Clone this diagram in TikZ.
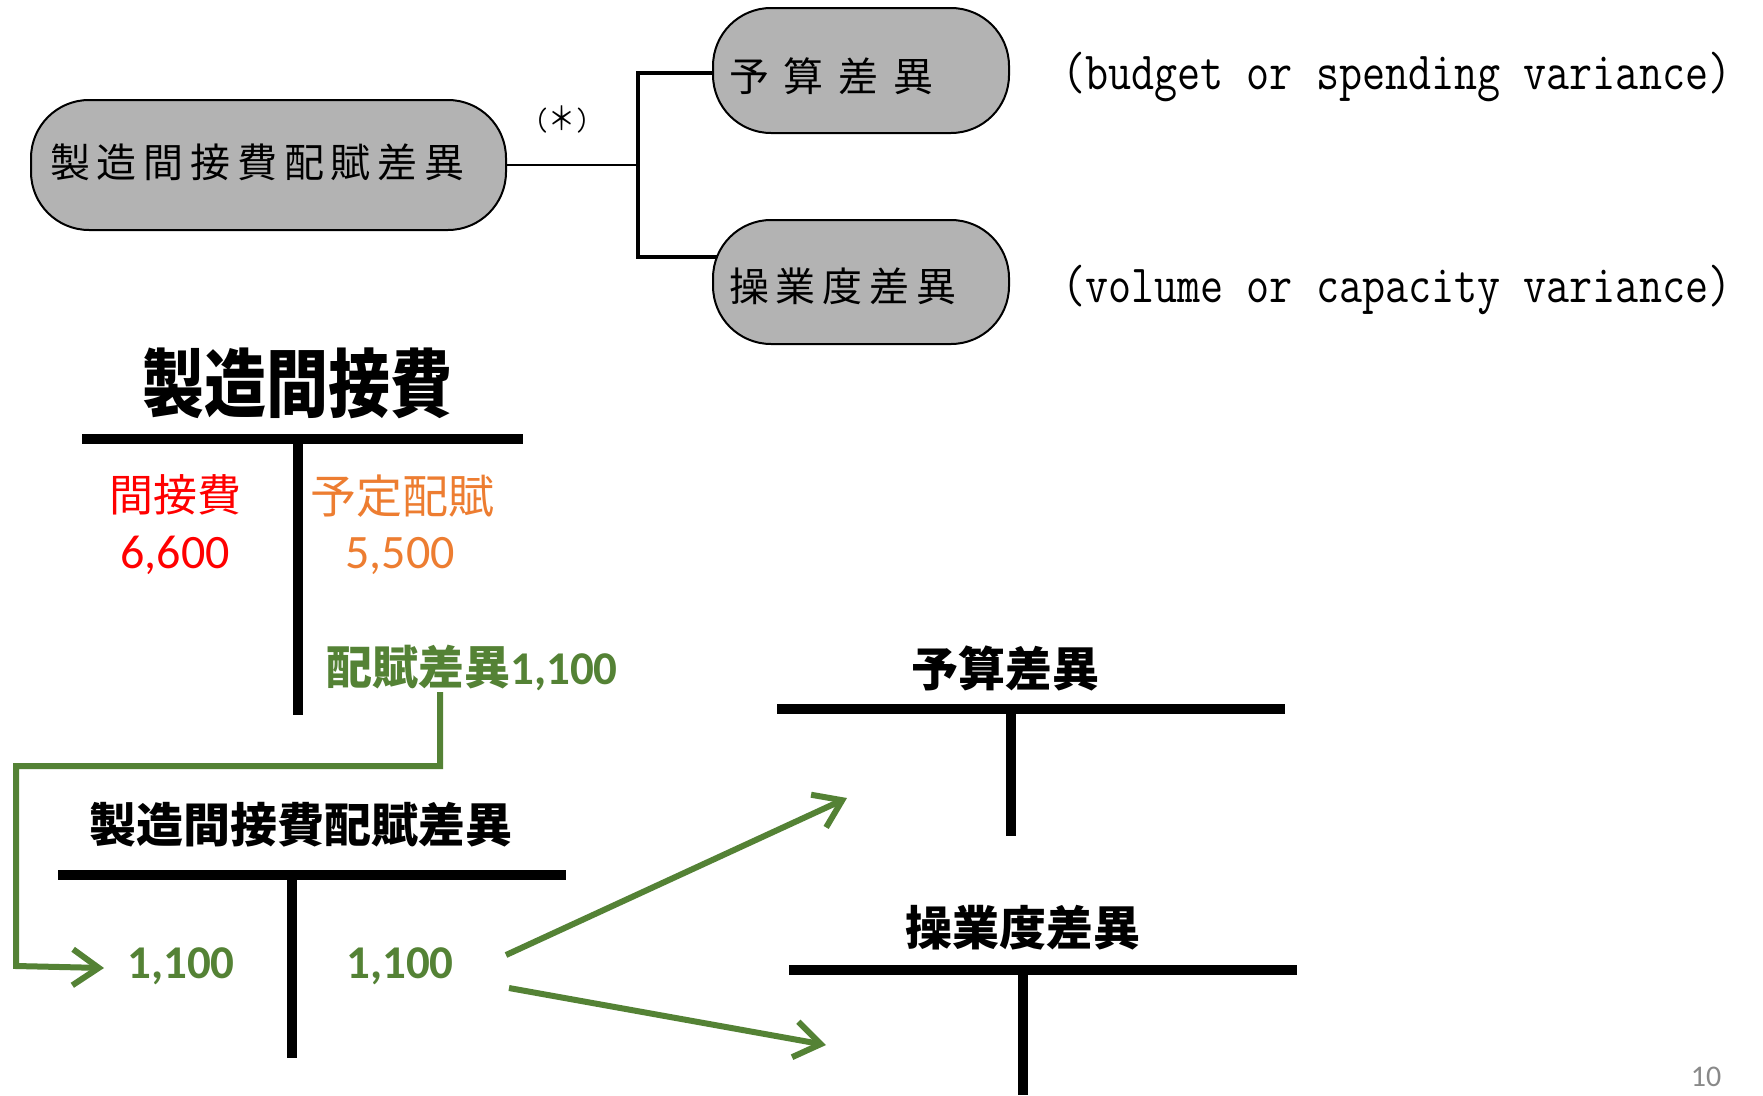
\documentclass[tikz,border=0pt]{standalone}
\usepackage{fontspec}
\usepackage{graphicx}
\setmainfont{Noto Sans CJK JP}
\newfontfamily\jpls{Noto Sans CJK JP}[LetterSpace=17]
\newfontfamily\jpwide{Noto Sans CJK JP}[LetterSpace=37]
\newfontfamily\calf{Carlito}
\usetikzlibrary{arrows.meta}
\definecolor{gr}{HTML}{548235}
\definecolor{orng}{HTML}{ED7D31}
\definecolor{ovalgray}{RGB}{179,179,179}
\definecolor{pggray}{RGB}{137,137,137}
\pgfdeclarelayer{bg}
\pgfsetlayers{bg,main}
\tikzset{
  oval/.style={draw=black, line width=2pt, fill=ovalgray, rounded corners=58pt, inner sep=0pt},
  ovtext/.style={anchor=west, inner sep=0pt, font=\fontsize{40}{48}\selectfont},
  tbar/.style={line width=10.5pt},
  gline/.style={draw=gr, line width=6pt},
  garrow/.style={gline, -{Straight Barb[length=26pt,width=36pt]}},
  ttitle/.style={inner sep=0pt, font=\bfseries\fontsize{47}{56}\selectfont},
  gnum/.style={inner sep=0pt, text=gr, font=\calf\bfseries\fontsize{47}{56}\selectfont},
  engl/.style={anchor=west, inner sep=0pt},
}
\begin{document}
\begin{tikzpicture}[x=1pt,y=-1pt]
\path[use as bounding box] (0,0) rectangle (1763,1095);
\begin{pgfonlayer}{bg}
\fill[white] (0,0) rectangle (1763,1095);
\end{pgfonlayer}

% ---- top diagram
\node[oval, minimum width=475pt, minimum height=130pt] (ovA) at (268.5,165) {};
\node[ovtext] (tA) at (50,162) {\jpls 製造間接費配賦差異};
\node[oval, minimum width=296pt, minimum height=125pt] (ovB) at (861,70.5) {};
\node[ovtext] (tB) at (729,76) {\jpwide 予算差異};
\node[oval, minimum width=296pt, minimum height=124pt] (ovC) at (861,282) {};
\node[ovtext] (tC) at (729,286) {\jpls 操業度差異};

\coordinate (br) at (638,165);
\coordinate (bt) at (638,73);
\coordinate (bb) at (638,257);
\begin{pgfonlayer}{bg}
\draw[line width=2pt] (ovA.east) -- (br);
\draw[line width=3.5pt] ([xshift=20pt]ovB.west |- bt) -- (bt) -- (bb) -- ([xshift=20pt]ovC.west |- bb);
\end{pgfonlayer}
\node[inner sep=0pt] (ast) at (562,119) {\scalebox{1}[1.2]{\fontsize{27}{30}\selectfont{\ttfamily(}＊{\ttfamily)}}};

\node[engl] (eB) at (1062,77) {\scalebox{1}[1.2]{\ttfamily\fontsize{44.8}{48}\selectfont(budget or spending variance)}};
\node[engl] (eC) at (1062,290) {\scalebox{1}[1.2]{\ttfamily\fontsize{44.8}{48}\selectfont(volume or capacity variance)}};

% ---- T account 1
\node[inner sep=0pt] (t1) at (297,383) {\scalebox{1}[1.2]{\bfseries\fontsize{62}{70}\selectfont 製造間接費}};
\draw[tbar] (82,439) -- (523,439);
\draw[tbar] (298,436) -- (298,715);
\node[inner sep=0pt, text=red, font=\fontsize{44}{50}\selectfont] (kan) at (175,495) {間接費};
\node[inner sep=0pt, text=red, font=\calf\fontsize{48}{54}\selectfont] (v66) at (175,555) {6,600};
\node[inner sep=0pt, text=orng, font=\fontsize{46}{52}\selectfont] (yotei) at (402,496) {予定配賦};
\node[inner sep=0pt, text=orng, font=\calf\fontsize{48}{54}\selectfont] (v55) at (400,556) {5,500};
\node[inner sep=0pt, text=gr, font=\bfseries\fontsize{46}{52}\selectfont] (hai) at (472,668) {配賦差異{\calf\bfseries\fontsize{47}{52}\selectfont 1,100}};

% ---- T account 2
\node[ttitle] (t2) at (301,825) {製造間接費配賦差異};
\draw[tbar] (58,875) -- (566,875);
\draw[tbar] (292,872) -- (292,1058);
\node[gnum] (L1) at (181,966) {1,100};
\node[gnum] (R1) at (400,966) {1,100};

% ---- T account 3
\node[ttitle] (t3) at (1005,668) {予算差異};
\draw[tbar] (777,709) -- (1285,709);
\draw[tbar] (1011,706) -- (1011,836);

% ---- T account 4
\node[ttitle] (t4) at (1023,928) {操業度差異};
\draw[tbar] (789,970) -- (1297,970);
\draw[tbar] (1023,967) -- (1023,1095);

% ---- green connectors
\coordinate (g0) at (440,692);
\coordinate (g1) at (16,766);
\coordinate (g2) at (16,966);
\coordinate (gtip) at (104,968);
\draw[garrow] (g0) |- (g1) -- (g2) -- (gtip);
\coordinate (a1s) at (506,955);
\coordinate (a1e) at (847,798);
\draw[garrow] (a1s) -- (a1e);
\coordinate (a2s) at (509,988);
\coordinate (a2e) at (826,1045);
\draw[garrow] (a2s) -- (a2e);

\node[inner sep=0pt, text=pggray, font=\calf\fontsize{30}{33}\selectfont] (pg) at (1706,1077) {10};
\end{tikzpicture}
\end{document}
